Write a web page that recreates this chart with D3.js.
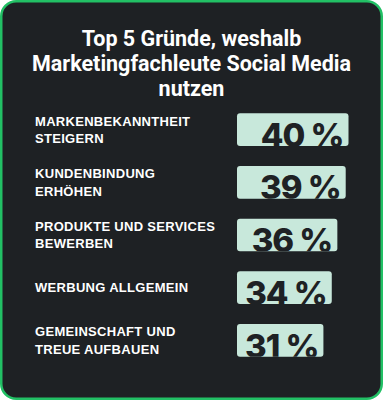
<!DOCTYPE html>
<html><head><meta charset="utf-8">
<script src="https://cdn.jsdelivr.net/npm/d3@7"></script>
<style>html,body{margin:0;padding:0;background:#fff;}svg{display:block;}</style>
</head><body>
<script>
const titleLines = ["Top 5 Gründe, weshalb", "Marketingfachleute Social Media", "nutzen"];
const categories = ["MARKENBEKANNTHEIT|STEIGERN", "KUNDENBINDUNG|ERHÖHEN", "PRODUKTE UND SERVICES|BEWERBEN", "WERBUNG ALLGEMEIN", "GEMEINSCHAFT UND|TREUE AUFBAUEN"];
const values = [40, 39, 36, 34, 31];
const valueLabels = ["40 %", "39 %", "36 %", "34 %", "31 %"];

const W = 383, H = 400;
const bg = "#1e2124", green = "#22c065", barColor = "#c8e8db";
const svg = d3.select("body").append("svg").attr("width", W).attr("height", H);

svg.append("rect").attr("x", 1.25).attr("y", 1.25).attr("width", W - 2.5).attr("height", H - 2.5)
  .attr("rx", 15).attr("fill", bg).attr("stroke", green).attr("stroke-width", 2.5);

const title = svg.append("text").attr("text-anchor", "middle").attr("fill", "#fff")
  .attr("font-family", "Roboto, 'Liberation Sans', sans-serif").attr("font-weight", 700).attr("font-size", 21.5);
titleLines.forEach((t, i) => title.append("tspan").attr("x", 191.5).attr("y", 45.5 + i * 25).text(t));

const x0 = 237;
const x = d3.scaleLinear().domain([0, 40]).range([0, 111.5]);
const y = d3.scaleBand().domain(categories).range([113.3, 356.7]).paddingInner(0.38).paddingOuter(0);

const defs = svg.append("defs");
const g = svg.append("g");
categories.forEach((c, i) => {
  const by = y(c), bh = y.bandwidth(), bw = x(values[i]);
  const id = "clip" + i;
  defs.append("clipPath").attr("id", id).append("rect")
    .attr("x", x0).attr("y", by).attr("width", bw).attr("height", bh).attr("rx", 3);
  g.append("rect").attr("x", x0).attr("y", by).attr("width", bw).attr("height", bh).attr("rx", 3).attr("fill", barColor);
  g.append("text").attr("clip-path", `url(#${id})`).attr("x", x0 + bw - 5).attr("y", by + 33.5)
    .attr("text-anchor", "end").attr("fill", bg)
    .attr("font-family", "Inter, 'Liberation Sans', sans-serif").attr("font-weight", 800)
    .attr("font-size", 33).attr("letter-spacing", -1).text(valueLabels[i]);
  const lines = c.split("|");
  const cy = by + bh / 2;
  const lh = 17.5;
  const t = g.append("text").attr("fill", "#fff")
    .attr("font-family", "'Liberation Sans', Arial, sans-serif").attr("font-weight", 700)
    .attr("font-size", 13).attr("letter-spacing", 0.3);
  lines.forEach((l, j) => {
    const base = cy + 4.7 + (j - (lines.length - 1) / 2) * lh;
    t.append("tspan").attr("x", 35).attr("y", base).text(l);
  });
});
</script>
</body></html>
